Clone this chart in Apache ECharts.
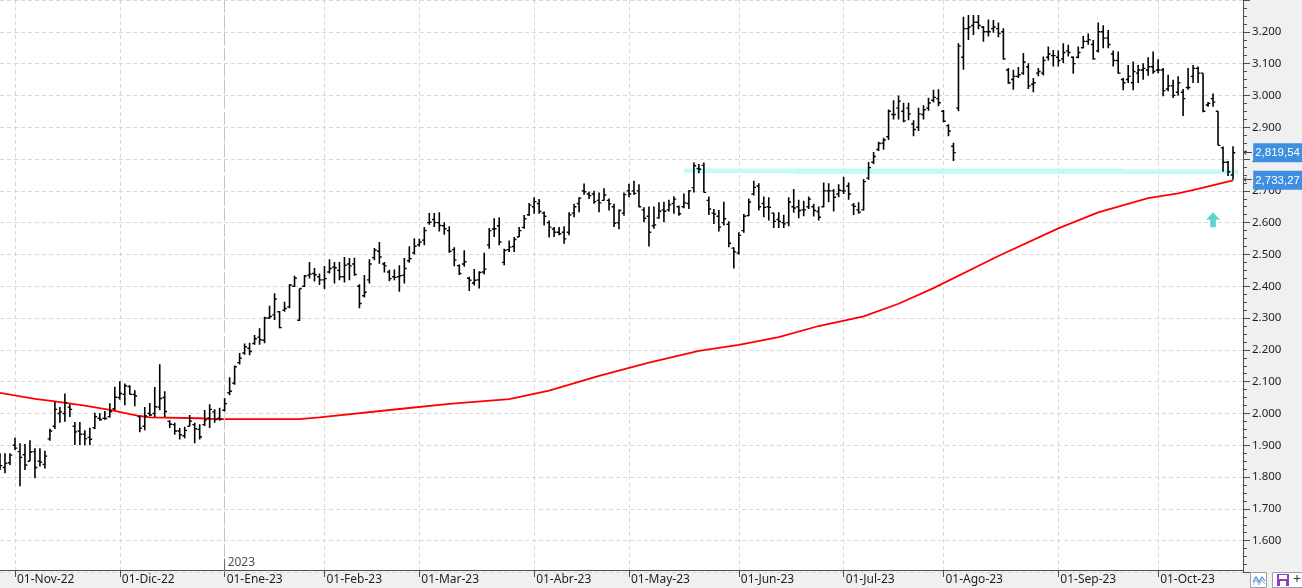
<!DOCTYPE html>
<html><head><meta charset="utf-8">
<script src="https://cdn.jsdelivr.net/npm/echarts@6/dist/echarts.min.js"></script>
<style>html,body{margin:0;padding:0;background:#f0f0f0}#c{width:1302px;height:588px}</style>
</head><body><div id="c"></div>
<script>
// ---------- data ----------
const startDate = '2022-10-27';
const endDate = '2023-10-23';
const holidays = ['2022-11-24','2022-12-26','2023-01-02','2023-01-16','2023-02-20','2023-04-07','2023-05-29','2023-06-19','2023-07-04','2023-09-04'];
const monthNames = ['Ene','Feb','Mar','Abr','May','Jun','Jul','Ago','Sep','Oct','Nov','Dic'];

const opens = [
1860,1830,1845,1900,1880,1870,1850,1880,1850,1840,
1920,1960,2000,2000,2020,1960,1945,1935,1925,1955,
1985,1985,1990,2015,2050,2060,2085,2060,1990,1960,
2000,2000,2020,2050,1975,1965,1945,1930,1960,1965,
1950,1965,1985,2005,1985,2010,2065,2095,2160,2190,
2205,2220,2240,2230,2300,2310,2320,2325,2335,2400,
2293,2400,2435,2440,2430,2420,2445,2460,2450,2430,
2470,2470,2400,2370,2420,2490,2510,2470,2445,2430,
2430,2435,2480,2505,2530,2545,2600,2610,2600,2590,
2575,2515,2465,2470,2425,2410,2420,2445,2530,2580,
2590,2475,2515,2525,2555,2585,2625,2650,2660,2630,
2600,2580,2570,2570,2570,2630,2660,2700,2690,2690,
2670,2670,2670,2650,2600,2630,2700,2700,2700,2640,
2620,2590,2615,2640,2640,2660,2650,2650,2660,2710,
2770,2780,2670,2630,2620,2600,2595,2520,2505,2575,
2622,2690,2715,2660,2650,2630,2610,2600,2600,2650,
2650,2640,2650,2650,2635,2650,2700,2700,2690,2700,
2715,2655,2640,2640,2740,2790,2830,2850,2870,2940,
2960,2950,2960,2910,2900,2940,2960,2985,2990,2950,
2905,2840,2960,3120,3210,3220,3230,3215,3200,3210,
3210,3200,3080,3050,3060,3070,3090,3035,3070,3070,
3120,3125,3120,3115,3140,3120,3120,3150,3170,3160,
3140,3200,3180,3130,3110,3050,3050,3040,3070,3080,
3080,3090,3080,3080,3020,3030,3010,3010,3025,3060,
3085,3070,2970,2990,2950,2835,2790,2750
];
const highs = [
1875,1875,1875,1924,1906,1904,1916,1891,1891,1883,
1952,2037,2020,2063,2029,1973,1973,1947,1955,2002,
2001,2008,2032,2084,2101,2094,2089,2073,1993,2020,
2033,2083,2155,2070,1979,1971,1954,1958,1995,1971,
1966,2011,2029,2013,2018,2049,2114,2151,2190,2220,
2222,2247,2268,2304,2339,2378,2322,2351,2406,2433,
2393,2435,2476,2457,2440,2464,2485,2476,2476,2492,
2489,2490,2406,2435,2485,2520,2539,2476,2452,2453,
2466,2489,2526,2551,2549,2586,2630,2630,2633,2601,
2589,2523,2468,2513,2430,2454,2447,2505,2583,2614,
2617,2518,2544,2555,2586,2624,2662,2680,2674,2635,
2607,2586,2586,2589,2633,2659,2680,2723,2697,2700,
2695,2708,2676,2659,2641,2695,2722,2732,2721,2648,
2651,2651,2664,2666,2672,2683,2654,2692,2702,2789,
2784,2789,2682,2643,2640,2666,2604,2523,2570,2627,
2676,2732,2724,2682,2680,2631,2633,2625,2680,2706,
2672,2669,2682,2659,2651,2726,2724,2706,2721,2744,
2726,2662,2664,2737,2791,2822,2854,2867,2956,2985,
3000,2977,2977,2922,2961,2969,2993,3018,3019,2954,
2909,2851,3164,3247,3253,3253,3253,3218,3239,3237,
3229,3211,3086,3081,3089,3133,3101,3055,3086,3122,
3154,3143,3141,3164,3159,3122,3154,3187,3195,3174,
3229,3221,3206,3141,3138,3055,3096,3107,3096,3101,
3120,3138,3114,3086,3065,3049,3060,3020,3086,3096,
3091,3070,2979,3006,2950,2839,2794,2840
];
const lows = [
1822,1812,1838,1885,1771,1822,1850,1796,1833,1827,
1914,1951,1971,1974,1989,1901,1901,1900,1900,1951,
1977,1980,1987,2010,2043,2026,2060,2023,1941,1947,
1991,1989,2010,1989,1954,1933,1918,1922,1960,1906,
1918,1961,1954,1971,1977,2006,2057,2090,2154,2185,
2183,2216,2216,2221,2297,2294,2268,2320,2331,2398,
2291,2398,2424,2415,2404,2391,2440,2409,2419,2412,
2419,2433,2331,2365,2409,2482,2471,2443,2416,2419,
2383,2409,2474,2500,2525,2529,2593,2586,2572,2562,
2505,2463,2435,2461,2385,2402,2393,2437,2518,2555,
2529,2466,2508,2508,2555,2581,2622,2628,2628,2591,
2553,2555,2560,2534,2560,2617,2633,2688,2674,2659,
2633,2669,2638,2586,2579,2622,2680,2687,2648,2601,
2525,2581,2612,2601,2635,2628,2622,2645,2643,2695,
2755,2695,2624,2596,2572,2591,2523,2456,2500,2568,
2620,2685,2638,2617,2607,2583,2583,2583,2589,2631,
2614,2620,2643,2619,2607,2648,2664,2635,2680,2690,
2672,2624,2628,2638,2735,2784,2825,2829,2860,2924,
2924,2916,2922,2872,2888,2924,2952,2978,2966,2916,
2872,2794,2950,3081,3174,3190,3208,3169,3185,3197,
3183,3112,3036,3018,3055,3065,3020,3010,3060,3063,
3110,3091,3091,3101,3122,3068,3117,3148,3159,3112,
3135,3148,3148,3091,3068,3016,3039,3016,3039,3049,
3062,3068,3070,2997,3013,2992,3000,2935,3018,3039,
3039,2947,2964,2964,2843,2760,2747,2735
];
const closes = [
1836,1843,1869,1891,1862,1838,1879,1830,1847,1866,
1945,2013,2005,2034,2013,1942,1935,1921,1919,1990,
1981,1984,2006,2051,2063,2087,2060,2055,1954,1992,
1995,2021,2047,2006,1966,1945,1933,1947,1976,1952,
1926,1980,2013,1981,1983,2031,2070,2147,2174,2210,
2195,2235,2232,2300,2305,2360,2270,2330,2404,2425,
2393,2432,2438,2436,2420,2424,2456,2458,2430,2466,
2464,2437,2346,2381,2470,2513,2492,2464,2424,2428,
2433,2456,2487,2526,2539,2575,2601,2600,2591,2581,
2510,2482,2440,2477,2419,2419,2443,2454,2575,2581,
2539,2513,2523,2547,2575,2612,2655,2666,2635,2620,
2586,2570,2565,2549,2625,2650,2677,2697,2685,2666,
2662,2687,2659,2598,2638,2688,2690,2692,2650,2614,
2570,2593,2636,2636,2656,2674,2628,2662,2700,2779,
2768,2695,2643,2627,2586,2612,2535,2508,2560,2620,
2665,2711,2650,2648,2648,2604,2604,2596,2665,2646,
2638,2640,2674,2638,2617,2700,2700,2680,2702,2700,
2690,2651,2633,2729,2773,2808,2849,2860,2950,2940,
2982,2920,2942,2893,2942,2955,2976,2994,2977,2919,
2888,2820,3155,3210,3215,3230,3220,3200,3200,3215,
3195,3115,3040,3060,3065,3105,3030,3040,3075,3110,
3130,3125,3110,3135,3135,3100,3135,3170,3175,3115,
3200,3180,3160,3110,3070,3040,3060,3075,3080,3085,
3090,3075,3080,3015,3030,3000,3040,2990,3025,3085,
3070,2950,2975,2979,2843,2790,2760,2819.54
];
// moving average (red) read at sample bars
const maIdx  = [0,7,11,17,22,28,30,40,43,60,64,80,90,102,110,120,130,140,148,156,164,173,180,187,200,212,220,230,236,240,247];
const maVals = [2065,2046,2038,2025,2011,1992,1988,1985,1982,1982,1988,2014,2030,2045,2072,2118,2160,2197,2216,2240,2275,2305,2345,2394,2495,2582,2632,2677,2692,2706,2733.27];
// cyan support zone segments
const zoneStart = [137,159];
const zoneEnd   = [225,248];
const zoneValue = [2763,2760];
// markers
const lastClose = 2819.54;
const lastMA = 2733.27;
const arrowIdx = 243, arrowValue = 2609;
const padCats = ['pad1','pad2'];

// ---------- build ----------
const dates = [];
for (let d = new Date(startDate + 'T00:00:00Z'); d <= new Date(endDate + 'T00:00:00Z'); d.setUTCDate(d.getUTCDate() + 1)) {
  const wd = d.getUTCDay(); const s = d.toISOString().slice(0, 10);
  if (wd === 0 || wd === 6 || holidays.includes(s)) continue;
  dates.push(s);
}
const cats = dates.concat(padCats);
const monthStart = new Set();
let yearIdx = -1;
for (let i = 1; i < dates.length; i++) {
  if (dates[i].slice(0, 7) !== dates[i - 1].slice(0, 7)) monthStart.add(i);
  if (yearIdx < 0 && dates[i].slice(0, 4) !== dates[i - 1].slice(0, 4)) yearIdx = i;
}
const isMonth = (idx) => monthStart.has(idx);
const fmtDate = (v) => { if (!/^\d{4}-/.test(v)) return ''; const p = v.split('-'); return '01-' + monthNames[+p[1] - 1] + '-' + p[0].slice(2); };
const fmtThousands = (v) => { v = Math.round(v); return v >= 1000 ? Math.floor(v / 1000) + '.' + String(v % 1000).padStart(3, '0') : String(v); };
const fmtPrice = (v) => { const [a, b] = v.toFixed(2).split('.'); return a.replace(/\B(?=(\d{3})+(?!\d))/g, ',') + ',' + b; };

const ohlc = dates.map((d, i) => [i, opens[i], highs[i], lows[i], closes[i]]);
const maData = cats.map(() => null);
maIdx.forEach((k, j) => { maData[k] = maVals[j]; });

const FONT = 'Noto Sans';
const zoneSeries = zoneStart.map((s, j) => ({
  type: 'line', silent: true, symbol: 'none', z: 3, animation: false,
  lineStyle: { color: '#c2f9fb', width: 4.5 },
  data: [[s, zoneValue[j]], [zoneEnd[j], zoneValue[j]]]
}));

const chart = echarts.init(document.getElementById('c'), null, { renderer: 'canvas' });
chart.setOption({
  animation: false,
  backgroundColor: '#f0f0f0',
  grid: { left: 0, right: 59, top: -3.5, bottom: 15.5, show: true, backgroundColor: '#ffffff', borderWidth: 0, z: 0 },
  xAxis: {
    type: 'category', data: cats, boundaryGap: false, offset: -2.5, z: 3,
    axisLine: { lineStyle: { color: '#4d4d4d', width: 1 } },
    axisTick: { show: true, interval: isMonth, length: 7, lineStyle: { color: '#4d4d4d' } },
    axisLabel: { interval: isMonth, formatter: fmtDate, align: 'left', margin: 4, padding: [0, 0, 0, 2],
      color: '#1e1e1e', fontFamily: FONT, fontSize: 12 },
    splitLine: { show: true, interval: isMonth, lineStyle: { color: '#d9d9d9', type: [4, 3] } }
  },
  yAxis: {
    type: 'value', position: 'right', min: 1500, max: 3300, interval: 100, z: 3,
    axisLine: { show: true, lineStyle: { color: '#4d4d4d' } },
    axisTick: { show: true, length: 7, lineStyle: { color: '#4d4d4d' } },
    minorTick: { show: true, splitNumber: 4, length: 4, lineStyle: { color: '#4d4d4d' } },
    axisLabel: { formatter: fmtThousands, margin: 9, color: '#1e1e1e', fontFamily: FONT, fontSize: 11.5,
      showMinLabel: false, showMaxLabel: false },
    splitLine: { show: true, lineStyle: { color: '#d9d9d9', type: [4, 3] } }
  },
  series: [
    ...zoneSeries,
    {
      type: 'line', name: 'MA', data: maData, connectNulls: true, symbol: 'none', z: 4,
      lineStyle: { color: '#ff0000', width: 1.8 },
      markLine: {
        silent: true, symbol: 'none', animation: false,
        lineStyle: { color: 'rgba(0,0,0,0)', width: 0 },
        label: {
          show: true, position: 'end', distance: 0,
          formatter: (p) => '{a|←}{b|' + fmtPrice(p.value) + '}',
          rich: {
            a: { color: '#444444', fontSize: 11, fontFamily: 'DejaVu Sans', padding: [0, 1, 0, 0] },
            b: { color: '#ffffff', backgroundColor: '#3f8fe0', fontSize: 11.5, fontFamily: 'Liberation Sans', padding: [4, 2, 3, 2] }
          }
        },
        data: [{ yAxis: lastClose }, { yAxis: lastMA }]
      }
    },
    {
      type: 'custom', name: 'OHLC', z: 5, clip: true,
      encode: { x: 0, y: [1, 2, 3, 4] },
      data: ohlc,
      renderItem: function (params, api) {
        const i = api.value(0);
        const o = api.coord([i, api.value(1)]);
        const h = api.coord([i, api.value(2)]);
        const l = api.coord([i, api.value(3)]);
        const c = api.coord([i, api.value(4)]);
        const x = h[0];
        return { type: 'group', children: [
          { type: 'line', shape: { x1: x, y1: h[1], x2: x, y2: l[1] }, style: { stroke: '#000', lineWidth: 1.6 } },
          { type: 'line', shape: { x1: x - 2.3, y1: o[1], x2: x, y2: o[1] }, style: { stroke: '#000', lineWidth: 1.4 } },
          { type: 'line', shape: { x1: x, y1: c[1], x2: x + 2.3, y2: c[1] }, style: { stroke: '#000', lineWidth: 1.4 } }
        ] };
      }
    },
    {
      type: 'scatter', name: 'year', silent: true, z: 6,
      data: [[yearIdx, 1500]],
      symbol: 'rect', symbolSize: [1, 13], symbolOffset: [0, -7.5],
      itemStyle: { color: '#4d4d4d' },
      label: { show: true, formatter: dates[yearIdx].slice(0, 4), position: [3.5, -2], color: '#1e1e1e', fontFamily: FONT, fontSize: 12 },
      markLine: {
        silent: true, symbol: 'none', label: { show: false },
        lineStyle: { color: '#c4c4c4', type: [12, 4], width: 1 },
        data: [{ xAxis: dates[yearIdx] }]
      }
    },
    {
      type: 'scatter', name: 'arrow', silent: true, z: 6,
      data: [[arrowIdx, arrowValue]],
      symbol: 'path://M5,0 L10,6 L7,6 L7,12 L3,12 L3,6 L0,6 Z', symbolSize: [14, 15],
      itemStyle: { color: '#35c9c4' }
    }
  ],
  graphic: [
    { type: 'rect', z: 1, shape: { x: 0, y: 570.5, width: 1302, height: 18 }, style: { fill: '#f0f0f0' } },
    { type: 'rect', z: 4, shape: { x: 1250.5, y: 572.5, width: 16, height: 15 }, style: { fill: '#ffffff', stroke: '#a0a0a0', lineWidth: 1 } },
    { type: 'polyline', z: 5, shape: { points: [[1253, 582], [1256, 577], [1259, 582], [1262, 577], [1265, 581]] }, style: { stroke: '#4a8ad4', lineWidth: 1.2, fill: null } },
    { type: 'polyline', z: 5, shape: { points: [[1253, 585], [1256, 580], [1259, 585], [1262, 580], [1265, 584]] }, style: { stroke: '#8fb8e6', lineWidth: 1, fill: null } },
    { type: 'rect', z: 4, shape: { x: 1272.5, y: 572.5, width: 32, height: 15 }, style: { fill: '#ffffff', stroke: '#a0a0a0', lineWidth: 1 } },
    { type: 'rect', z: 5, shape: { x: 1277, y: 574, width: 12, height: 12 }, style: { fill: '#8a3fc4' } },
    { type: 'rect', z: 6, shape: { x: 1279, y: 575, width: 8, height: 4 }, style: { fill: '#ffffff' } },
    { type: 'rect', z: 6, shape: { x: 1280, y: 581, width: 6, height: 5 }, style: { fill: '#ffffff' } },
    { type: 'text', z: 5, style: { x: 1293, y: 573, text: '+', fill: '#333', fontSize: 14, fontFamily: FONT } }
  ]
});
</script>
</body></html>
